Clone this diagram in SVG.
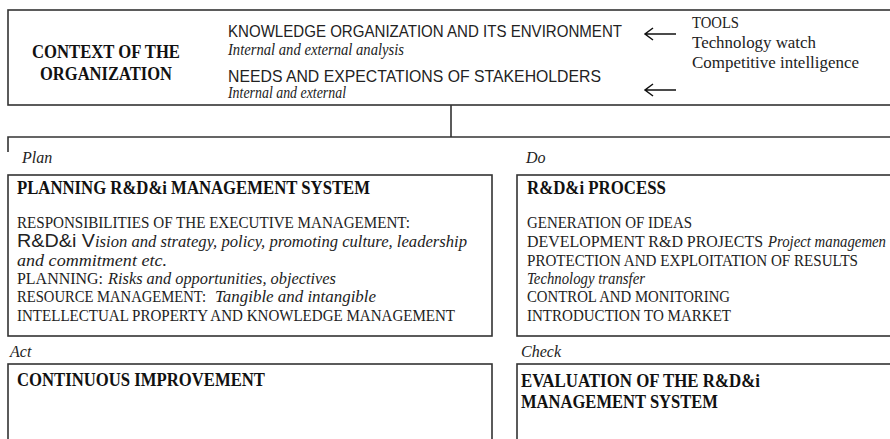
<svg xmlns="http://www.w3.org/2000/svg" width="890" height="439" viewBox="0 0 890 439">
<style>
.box{fill:#fff;stroke:#333;stroke-width:1.6}
.ln{fill:none;stroke:#333;stroke-width:1.6}
.arr{fill:none;stroke:#111;stroke-width:1.5}
.sb{font-family:"Liberation Serif","Times New Roman",serif;font-weight:bold;fill:#111}
.s{font-family:"Liberation Serif","Times New Roman",serif;fill:#222}
.si{font-family:"Liberation Serif","Times New Roman",serif;font-style:italic;fill:#222}
.ss{font-family:"Liberation Sans",Arial,sans-serif;fill:#222}
</style>
<rect width="890" height="439" fill="#fff"/>
<g id="context">
<rect class="box" x="8" y="10" width="900" height="95"/>
<text class="sb" x="106" y="58" font-size="19" text-anchor="middle" textLength="148" lengthAdjust="spacingAndGlyphs">CONTEXT OF THE</text>
<text class="sb" x="106" y="80" font-size="19" text-anchor="middle" textLength="132" lengthAdjust="spacingAndGlyphs">ORGANIZATION</text>
<text class="ss" x="228" y="37" font-size="16.5" textLength="394" lengthAdjust="spacingAndGlyphs">KNOWLEDGE ORGANIZATION AND ITS ENVIRONMENT</text>
<text class="si" x="228" y="55" font-size="16" textLength="176" lengthAdjust="spacingAndGlyphs">Internal and external analysis</text>
<text class="ss" x="228" y="82" font-size="16.5" textLength="373" lengthAdjust="spacingAndGlyphs">NEEDS AND EXPECTATIONS OF STAKEHOLDERS</text>
<text class="si" x="228" y="98" font-size="16" textLength="118" lengthAdjust="spacingAndGlyphs">Internal and external</text>
</g>
<g id="tools">
<text class="s" x="692" y="28" font-size="16" textLength="47" lengthAdjust="spacingAndGlyphs">TOOLS</text>
<text class="s" x="692" y="48" font-size="16" textLength="124" lengthAdjust="spacingAndGlyphs">Technology watch</text>
<text class="s" x="692" y="68" font-size="16" textLength="167" lengthAdjust="spacingAndGlyphs">Competitive intelligence</text>
</g>
<g id="connectors">
<path class="arr" d="M676,34 H645 M653,28 L645,34 L653,40"/>
<path class="arr" d="M676,90 H645 M653,84 L645,90 L653,96"/>
<path class="ln" d="M451,105 V137 M8,152 V137 H900"/>
</g>
<g id="plan">
<text class="si" x="22" y="163" font-size="16">Plan</text>
<rect class="box" x="8" y="175" width="484" height="161"/>
<text class="sb" x="17" y="194" font-size="18" textLength="353" lengthAdjust="spacingAndGlyphs">PLANNING R&amp;D&amp;i MANAGEMENT SYSTEM</text>
<text class="s" x="17" y="228" font-size="16.5" textLength="393" lengthAdjust="spacingAndGlyphs">RESPONSIBILITIES OF THE EXECUTIVE MANAGEMENT:</text>
<text x="17" y="247"><tspan class="ss" font-size="18.5" textLength="78" lengthAdjust="spacingAndGlyphs">R&amp;D&amp;i V</tspan><tspan class="si" font-size="16.5" x="95" textLength="372" lengthAdjust="spacingAndGlyphs">ision and strategy, policy, promoting culture, leadership</tspan></text>
<text class="si" x="17" y="266" font-size="16.5" textLength="150" lengthAdjust="spacingAndGlyphs">and commitment etc.</text>
<text x="17" y="284"><tspan class="s" font-size="16.5" textLength="86" lengthAdjust="spacingAndGlyphs">PLANNING:</tspan><tspan class="si" font-size="16.5" x="108" textLength="228" lengthAdjust="spacingAndGlyphs">Risks and opportunities, objectives</tspan></text>
<text x="17" y="302"><tspan class="s" font-size="16.5" textLength="189" lengthAdjust="spacingAndGlyphs">RESOURCE MANAGEMENT:</tspan><tspan class="si" font-size="16.5" x="215" textLength="161" lengthAdjust="spacingAndGlyphs">Tangible and intangible</tspan></text>
<text class="s" x="17" y="321" font-size="16.5" textLength="438" lengthAdjust="spacingAndGlyphs">INTELLECTUAL PROPERTY AND KNOWLEDGE MANAGEMENT</text>
</g>
<g id="do">
<text class="si" x="526" y="163" font-size="16">Do</text>
<rect class="box" x="517" y="175" width="400" height="161"/>
<text class="sb" x="527" y="194" font-size="18" textLength="139" lengthAdjust="spacingAndGlyphs">R&amp;D&amp;i PROCESS</text>
<text class="s" x="527" y="228" font-size="16.5" textLength="165" lengthAdjust="spacingAndGlyphs">GENERATION OF IDEAS</text>
<text x="527" y="247"><tspan class="s" font-size="16.5" textLength="236" lengthAdjust="spacingAndGlyphs">DEVELOPMENT R&amp;D PROJECTS</tspan><tspan class="si" font-size="16.5" x="768" textLength="118" lengthAdjust="spacingAndGlyphs">Project managemen</tspan></text>
<text class="s" x="527" y="266" font-size="16.5" textLength="331" lengthAdjust="spacingAndGlyphs">PROTECTION AND EXPLOITATION OF RESULTS</text>
<text class="si" x="527" y="284" font-size="16.5" textLength="118" lengthAdjust="spacingAndGlyphs">Technology transfer</text>
<text class="s" x="527" y="302" font-size="16.5" textLength="203" lengthAdjust="spacingAndGlyphs">CONTROL AND MONITORING</text>
<text class="s" x="527" y="321" font-size="16.5" textLength="204" lengthAdjust="spacingAndGlyphs">INTRODUCTION TO MARKET</text>
</g>
<g id="act">
<text class="si" x="10" y="357" font-size="16">Act</text>
<rect class="box" x="8" y="364" width="484" height="100"/>
<text class="sb" x="17" y="386" font-size="18" textLength="248" lengthAdjust="spacingAndGlyphs">CONTINUOUS IMPROVEMENT</text>
</g>
<g id="check">
<text class="si" x="521" y="357" font-size="16">Check</text>
<rect class="box" x="517" y="364" width="400" height="100"/>
<text class="sb" x="521" y="387" font-size="18" textLength="239" lengthAdjust="spacingAndGlyphs">EVALUATION OF THE R&amp;D&amp;i</text>
<text class="sb" x="521" y="408" font-size="18" textLength="197" lengthAdjust="spacingAndGlyphs">MANAGEMENT SYSTEM</text>
</g>
</svg>
